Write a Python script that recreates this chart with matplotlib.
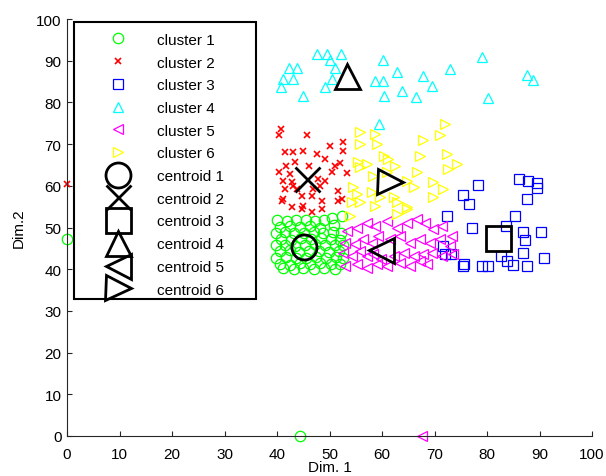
import numpy as np
import matplotlib
matplotlib.use("Agg")
import matplotlib.pyplot as plt
from matplotlib.patches import Rectangle

plt.rcParams['font.family'] = ['Liberation Sans', 'DejaVu Sans']
plt.rcParams['font.size'] = 11

# cluster 1 - green circles
c1_x = [40.0, 41.9, 43.6, 45.5, 47.3, 49.0, 50.5, 52.3,
        40.6, 42.5, 44.4, 46.3, 48.2, 50.9,
        39.9, 41.5, 43.3, 45.1, 47.0, 48.8, 50.6, 52.2,
        40.7, 42.6, 44.5, 46.4, 48.4, 50.3, 52.0,
        39.8, 41.6, 43.4, 45.3, 47.2, 49.2, 51.0, 52.6,
        40.5, 42.4, 44.2, 46.1, 48.0, 49.9, 51.8,
        39.9, 41.8, 43.7, 45.6, 47.5, 49.4, 51.3, 52.5,
        40.6, 42.5, 44.4, 46.3, 48.2, 50.2, 52.0,
        41.2, 43.2, 45.0, 47.0, 49.0, 51.0,
        0.0, 44.4]
c1_y = [51.8, 51.6, 51.9, 51.7, 51.5, 51.8, 52.4, 52.8,
        50.2, 50.4, 50.1, 50.3, 50.0, 50.5,
        48.8, 48.9, 48.6, 48.8, 49.0, 48.7, 48.9, 48.6,
        47.3, 47.1, 47.4, 47.2, 47.5, 47.3, 47.1,
        45.8, 45.9, 45.6, 45.8, 46.0, 45.7, 45.9, 45.8,
        44.3, 44.5, 44.2, 44.4, 44.3, 44.1, 44.4,
        42.8, 42.9, 42.6, 42.8, 43.0, 42.7, 42.9, 42.8,
        41.3, 41.1, 41.4, 41.2, 41.5, 41.3, 41.2,
        40.2, 40.1, 40.3, 40.0, 40.2, 40.1,
        47.2, 0.0]

# cluster 2 - red crosses
c2_x = [40.7, 40.3, 45.7, 50.0, 52.6, 52.6, 41.5, 43.1, 45.0, 43.4,
        47.6, 49.1, 51.0, 52.0, 41.8, 46.0, 40.3, 42.5, 50.4, 53.3,
        41.2, 42.8, 41.5, 43.1, 43.8, 47.9, 49.1, 48.2, 46.9, 41.2,
        44.7, 46.6, 51.7, 48.5, 40.9, 51.7, 52.3, 42.8, 44.7, 45.0,
        46.6, 48.5, 0.0]
c2_y = [73.6, 72.2, 72.2, 69.5, 70.6, 68.4, 68.0, 68.0, 68.4, 65.6,
        67.6, 66.4, 64.8, 65.5, 64.8, 64.8, 63.2, 62.8, 63.2, 63.1,
        61.2, 60.8, 59.2, 60.0, 59.2, 61.6, 61.2, 60.0, 59.2, 56.8,
        57.6, 57.6, 58.8, 56.4, 56.4, 56.4, 56.8, 54.8, 54.4, 55.1,
        53.8, 54.4, 60.4]

# cluster 3 - blue squares
c3_x = [78.2, 86.1, 87.9, 89.6, 89.6, 75.4, 76.6, 87.7, 72.4, 85.3,
        83.7, 77.1, 86.8, 90.3, 87.2, 71.7, 72.0, 73.1, 82.6, 86.8,
        83.9, 90.9, 75.6, 75.4, 84.9, 87.7, 79.0, 80.1]
c3_y = [60.3, 61.6, 61.1, 60.7, 59.4, 57.8, 55.6, 56.8, 52.7, 52.7,
        50.4, 49.8, 49.0, 49.0, 46.9, 45.5, 43.6, 43.6, 43.1, 43.9,
        42.0, 42.6, 41.2, 40.8, 41.0, 40.8, 40.8, 40.8]

# cluster 4 - cyan triangles
c4_x = [47.6, 49.5, 52.1, 50.1, 42.2, 43.9, 51.0, 60.1, 79.0, 73.0,
        62.9, 67.9, 87.6, 88.7, 41.2, 43.1, 50.4, 58.7, 60.1, 40.7,
        49.1, 45.0, 63.9, 69.5, 60.4, 66.5, 80.1, 59.5]
c4_y = [91.6, 91.6, 91.6, 90.2, 88.2, 88.2, 88.2, 90.2, 90.8, 88.0,
        87.2, 86.4, 86.6, 85.4, 85.6, 85.6, 85.6, 85.2, 85.2, 83.6,
        83.6, 81.6, 82.8, 84.0, 81.6, 81.2, 81.1, 74.8]

# cluster 5 - magenta left triangles
c5_x = [53.3, 55.2, 57.1, 58.7, 60.9, 62.8, 64.7, 66.6, 68.2, 69.8,
        71.4, 73.3, 53.0, 54.9, 56.4, 58.0, 59.3, 61.5, 63.4, 65.3,
        67.2, 69.1, 71.0, 72.9, 52.6, 54.2, 55.8, 57.1, 58.3, 59.9,
        62.2, 64.1, 66.0, 67.9, 69.5, 71.4, 73.6, 53.0, 55.2, 57.1,
        59.0, 60.9, 63.4, 65.3, 67.2, 68.5, 67.6]
c5_y = [49.2, 50.0, 51.2, 50.4, 51.6, 50.0, 51.2, 52.0, 51.2, 49.6,
        50.4, 48.0, 46.4, 46.0, 47.2, 46.4, 48.0, 47.2, 48.0, 46.4,
        47.2, 46.4, 47.2, 45.6, 44.0, 43.2, 44.4, 43.2, 43.6, 42.4,
        43.2, 44.0, 43.2, 43.6, 44.0, 43.2, 43.6, 40.8, 41.2, 40.4,
        41.2, 40.8, 41.6, 40.8, 42.0, 41.2, 0.0]

# cluster 6 - yellow right triangles
c6_x = [55.8, 58.7, 72.0, 71.0, 55.8, 59.0, 67.9, 60.3, 61.2, 67.2,
        72.3, 72.6, 74.2, 55.5, 57.1, 55.8, 58.3, 60.9, 62.5, 66.6,
        69.8, 71.7, 64.7, 66.0, 54.5, 55.2, 58.0, 59.6, 62.2, 62.8,
        69.8, 54.2, 64.7, 55.8, 58.7, 62.8, 64.7, 53.9]
c6_y = [73.0, 72.4, 74.8, 72.2, 70.0, 70.0, 71.1, 67.2, 66.4, 67.2,
        67.6, 64.0, 65.2, 65.6, 65.2, 64.4, 62.4, 63.2, 64.8, 63.2,
        60.8, 59.2, 61.2, 59.6, 59.6, 58.0, 58.4, 57.2, 57.2, 56.0,
        57.2, 56.0, 54.8, 56.0, 55.2, 53.2, 54.4, 52.8]

cent_x = [45.2, 45.7, 82.0, 53.3, 59.9, 61.5]
cent_y = [45.4, 61.6, 47.5, 86.4, 44.6, 60.8]

clusters = [(c1_x, c1_y), (c2_x, c2_y), (c3_x, c3_y),
            (c4_x, c4_y), (c5_x, c5_y), (c6_x, c6_y)]
colours = ['#00ff00', '#ff0000', '#0000ff', '#00ffff', '#ff00ff', '#ffff00']
markers = ['o', 'x', 's', '^', '<', '>']
msizes = [7.5, 4.5, 6.5, 7.5, 7.5, 7.5]
labels = ['cluster %d' % (i + 1) for i in range(6)] + ['centroid %d' % (i + 1) for i in range(6)]

fig = plt.figure(figsize=(6.06, 4.77), dpi=100)
ax = fig.add_axes([0.1106, 0.0839, 0.8663, 0.8741])

handles = []
for i in range(6):
    h, = ax.plot(clusters[i][0], clusters[i][1], linestyle='none', marker=markers[i],
                 markersize=msizes[i], mfc='none', mec=colours[i],
                 mew=1.2 if i == 1 else 0.9, clip_on=False)
    handles.append(h)
for i in range(6):
    h, = ax.plot(cent_x[i], cent_y[i], linestyle='none', marker=markers[i],
                 markersize=18, mfc='none', mec='black', mew=2.0, clip_on=False)
    handles.append(h)

ax.set_xlim(0, 100)
ax.set_ylim(0, 100)
ax.set_xticks(np.arange(0, 101, 10))
ax.set_yticks(np.arange(0, 101, 10))
ax.spines['top'].set_visible(False)
ax.spines['right'].set_visible(False)
for s in ['left', 'bottom']:
    ax.spines[s].set_color('#262626')
    ax.spines[s].set_linewidth(0.8)
ax.tick_params(direction='in', length=3.5, width=0.8, pad=4, colors='#262626', labelcolor='black')
ax.tick_params(axis='x', pad=8)
ax.set_xlabel('Dim. 1', labelpad=-1)
ax.set_ylabel('Dim.2', labelpad=7)

# legend box
ax.add_patch(Rectangle((0.013, 0.329), 0.347, 0.664, transform=ax.transAxes,
                       facecolor='white', edgecolor='black', linewidth=1.5,
                       zorder=4, clip_on=False))
leg = ax.legend(handles, labels, loc='upper left', bbox_to_anchor=(0.013, 0.993),
                borderaxespad=0, borderpad=0.71, handlelength=4.35, handletextpad=0.38,
                labelspacing=0.57, frameon=False, fontsize=11, numpoints=1)
leg.set_zorder(5)

fig.savefig('out.png', dpi=100)
